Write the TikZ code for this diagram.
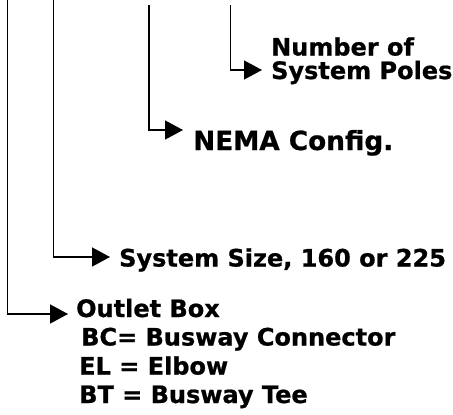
\documentclass[tikz,border=0pt]{standalone}
\usepackage{fontspec}
\setmainfont{DejaVu Sans}
\newfontfamily\heavyfont{DejaVu Sans Bold}[FakeBold=0.8]
\usetikzlibrary{arrows.meta}
\begin{document}
\begin{tikzpicture}[x=1pt,y=-1pt,
  conn/.style={line width=1.4pt,-{Triangle[length=18pt,width=19pt]}},
  lbl/.style={anchor=base west,inner sep=0pt,font=\fontsize{24}{28}\selectfont\heavyfont},
  biglbl/.style={anchor=base west,inner sep=0pt,font=\fontsize{26.3}{30}\selectfont\heavyfont}]
\useasboundingbox (0,0) rectangle (453,415);
% labels
\node[lbl] (poles1) at (271,55.5) {Number of};
\node[lbl] (poles2) at (271,79) {System Poles};
\node[biglbl] (nema) at (193,150) {NEMA Config.};
\node[lbl] (size) at (119,266.5) {System Size, 160 or 225};
\node[lbl] (outlet) at (76,317) {Outlet Box};
\node[lbl] (bc) at (81,345.5) {BC= Busway Connector};
\node[lbl] (el) at (79,374.5) {EL = Elbow};
\node[lbl] (bt) at (79,403) {BT = Busway Tee};
% connector ends
\coordinate (top1) at (7.5,-3);
\coordinate (top2) at (53.5,-3);
\coordinate (top3) at (149,5);
\coordinate (top4) at (230.5,5);
\coordinate (tip1) at (68,314);
\coordinate (tip2) at (110,257);
\coordinate (tip3) at (183,130);
\coordinate (tip4) at (262,70);
\draw[conn] (top1) |- (tip1);
\draw[conn] (top2) |- (tip2);
\draw[conn] (top3) |- (tip3);
\draw[conn] (top4) |- (tip4);
\end{tikzpicture}
\end{document}
